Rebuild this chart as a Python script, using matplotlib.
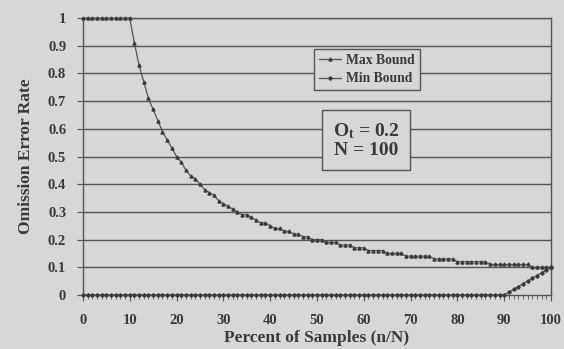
import numpy as np
import matplotlib
matplotlib.use("Agg")
import matplotlib.pyplot as plt
from matplotlib.ticker import MultipleLocator

# percent of samples 0..100
pct = list(range(0, 101))

max_bound = [1.0] * 11 + [
    0.91, 0.83, 0.77, 0.71, 0.67, 0.63, 0.59, 0.56, 0.53, 0.50,
    0.48, 0.45, 0.43, 0.42, 0.40, 0.38, 0.37, 0.36, 0.34, 0.33,
    0.32, 0.31, 0.30, 0.29, 0.29, 0.28, 0.27, 0.26, 0.26, 0.25,
    0.24, 0.24, 0.23, 0.23, 0.22, 0.22, 0.21, 0.21, 0.20, 0.20,
    0.20, 0.19, 0.19, 0.19, 0.18, 0.18, 0.18, 0.17, 0.17, 0.17,
    0.16, 0.16, 0.16, 0.16, 0.15, 0.15, 0.15, 0.15, 0.14, 0.14,
    0.14, 0.14, 0.14, 0.14, 0.13, 0.13, 0.13, 0.13, 0.13, 0.12,
    0.12, 0.12, 0.12, 0.12, 0.12, 0.12, 0.11, 0.11, 0.11, 0.11,
    0.11, 0.11, 0.11, 0.11, 0.11, 0.10, 0.10, 0.10, 0.10, 0.10,
]
min_bound = [0.0] * 91 + [0.01, 0.02, 0.03, 0.04, 0.05, 0.06, 0.07, 0.08, 0.09, 0.10]

y_ticks = [0, 0.1, 0.2, 0.3, 0.4, 0.5, 0.6, 0.7, 0.8, 0.9, 1]
y_labels = ["0", "0.1", "0.2", "0.3", "0.4", "0.5", "0.6", "0.7", "0.8", "0.9", "1"]
x_ticks = [0, 10, 20, 30, 40, 50, 60, 70, 80, 90, 100]

bg = "#d7d7d5"
ink = "#3a3a3a"

plt.rcParams["font.family"] = "Liberation Serif"
plt.rcParams["font.weight"] = "bold"
plt.rcParams["axes.labelweight"] = "bold"
plt.rcParams["mathtext.fontset"] = "custom"
plt.rcParams["mathtext.rm"] = "Liberation Serif:bold"
plt.rcParams["mathtext.it"] = "Liberation Serif:bold"

fig = plt.figure(figsize=(5.64, 3.49), dpi=100, facecolor=bg)
ax = fig.add_axes([0.147, 0.155, 0.83, 0.793])
ax.set_facecolor(bg)

for yv in y_ticks[1:]:
    ax.axhline(yv, color="#555555", lw=1.0, zorder=1)

ax.plot(pct, max_bound, color="#555555", lw=0.9, marker="^", ms=2.2,
        mfc=ink, mec=ink, label="Max Bound", zorder=3, clip_on=False)
ax.plot(pct, min_bound, color="#555555", lw=0.9, marker="D", ms=1.8,
        mfc=ink, mec=ink, label="Min Bound", zorder=3, clip_on=False)

ax.set_xlim(0, 100)
ax.set_ylim(0, 1)
ax.set_xticks(x_ticks)
ax.set_xticklabels([str(v) for v in x_ticks])
ax.xaxis.set_minor_locator(MultipleLocator(1))
ax.set_yticks(y_ticks)
ax.set_yticklabels(y_labels)
ax.tick_params(axis="both", which="major", direction="out", length=4,
               color="#555555", labelsize=10.5, labelcolor=ink, pad=8)
ax.tick_params(axis="x", which="minor", direction="out", length=3, color="#555555")
ax.tick_params(axis="x", which="major", pad=10)

for s in ax.spines.values():
    s.set_color("#555555")
    s.set_linewidth(1.0)

ax.set_xlabel("Percent of Samples (n/N)", fontsize=12.5, color=ink, labelpad=2)
ax.set_ylabel("Omission Error Rate", fontsize=12.5, color=ink, labelpad=10)

leg = ax.legend(loc="upper left", bbox_to_anchor=(0.494, 0.888), fontsize=9.8,
                frameon=True, fancybox=False, edgecolor="#555555",
                facecolor=bg, framealpha=1, handlelength=1.6,
                handletextpad=0.4, borderpad=0.35, labelspacing=0.4,
                borderaxespad=0)
for t in leg.get_texts():
    t.set_color(ink)
leg.get_frame().set_linewidth(1.0)

ax.text(0.605, 0.56, "$\\mathrm{O_t}$ = 0.2\nN = 100", transform=ax.transAxes,
        ha="center", va="center", fontsize=14, color=ink, linespacing=1.1,
        bbox=dict(boxstyle="square,pad=0.55", facecolor=bg, edgecolor="#555555", lw=1.0),
        zorder=5)

fig.savefig("out.png", dpi=100, facecolor=bg)
